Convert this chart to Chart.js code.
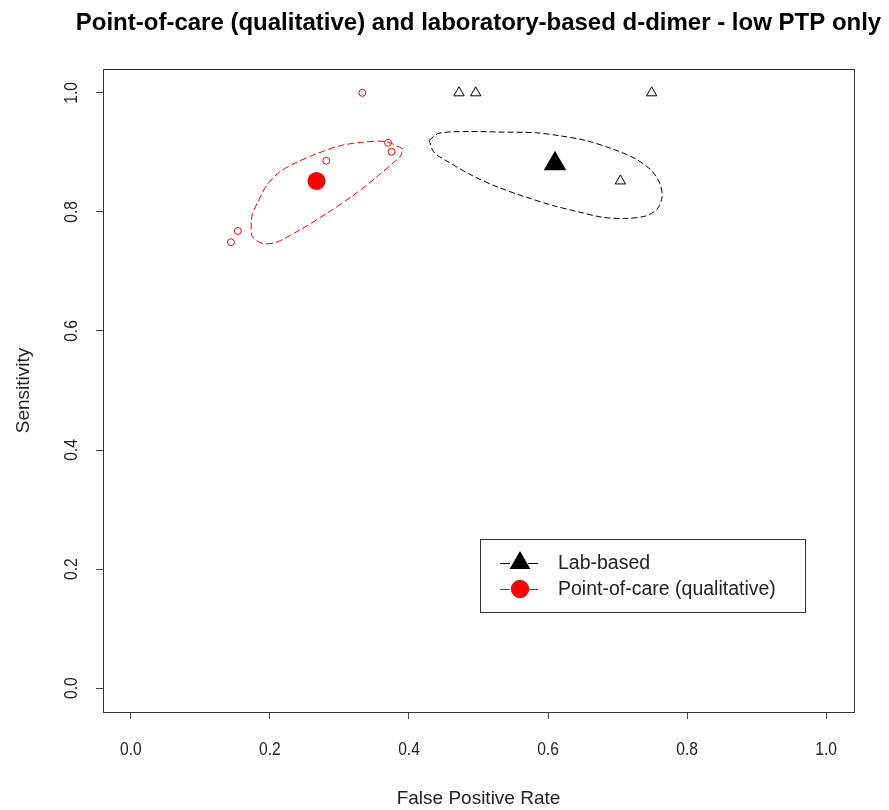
<!DOCTYPE html>
<html>
<head>
<meta charset="utf-8">
<script src="https://cdn.jsdelivr.net/npm/chart.js@4"></script>
<style>
  html, body { margin: 0; padding: 0; background: #fff; }
  canvas { display: block; }
</style>
</head>
<body>
<canvas id="sroc" width="889" height="810"></canvas>
<script>
// axis ticks
const tickValues = [0, 0.2, 0.4, 0.6, 0.8, 1.0];
const tickLabels = ['0.0', '0.2', '0.4', '0.6', '0.8', '1.0'];

// study estimates (FPR, sensitivity)
const labFpr = [0.472, 0.496, 0.749, 0.704];
const labSens = [1.0, 1.0, 1.0, 0.852];
const pocFpr = [0.333, 0.370, 0.375, 0.281, 0.154, 0.144];
const pocSens = [1.0, 0.916, 0.901, 0.886, 0.768, 0.749];

// summary points
const labSummary = [0.610, 0.881];
const pocSummary = [0.267, 0.852];

// confidence regions
const labRegionFpr = [0.429, 0.443, 0.486, 0.534, 0.582, 0.616, 0.654, 0.692, 0.726, 0.749, 0.761, 0.764,
    0.757, 0.740, 0.711, 0.678, 0.644, 0.606, 0.568, 0.529, 0.491, 0.458, 0.436, 0.429];
const labRegionSens = [0.920, 0.932, 0.935, 0.934, 0.933, 0.928, 0.920, 0.906, 0.889, 0.869, 0.847, 0.825,
    0.805, 0.793, 0.789, 0.791, 0.800, 0.811, 0.825, 0.841, 0.861, 0.883, 0.900, 0.920];
const pocRegionFpr = [0.391, 0.367, 0.333, 0.300, 0.266, 0.238, 0.214, 0.195, 0.185, 0.175, 0.173, 0.175,
    0.190, 0.209, 0.242, 0.281, 0.319, 0.353, 0.376, 0.388, 0.391];
const pocRegionSens = [0.906, 0.918, 0.917, 0.911, 0.897, 0.883, 0.867, 0.844, 0.822, 0.797, 0.774, 0.758,
    0.747, 0.749, 0.769, 0.797, 0.827, 0.858, 0.881, 0.894, 0.906];

const chartTitle = 'Point-of-care (qualitative) and laboratory-based d-dimer - low PTP only';
const xTitle = 'False Positive Rate';
const yTitle = 'Sensitivity';
const legendLabels = ['Lab-based', 'Point-of-care (qualitative)'];

const RED = '#ff0000';
const BLACK = '#000000';
const TEXT = '#222222';
const FONT = '"Liberation Sans", Arial, sans-serif';

const pts = (xs, ys) => xs.map((x, i) => ({ x, y: ys[i] }));

const datasets = [
    {
        label: 'labRegion',
        data: pts(labRegionFpr, labRegionSens),
        showLine: true,
        borderColor: BLACK,
        borderWidth: 1,
        borderDash: [6, 3],
        pointRadius: 0,
        tension: 0.3
    },
    {
        label: 'pocRegion',
        data: pts(pocRegionFpr, pocRegionSens),
        showLine: true,
        borderColor: RED,
        borderWidth: 1,
        borderDash: [7, 3],
        pointRadius: 0,
        tension: 0.3
    },
    {
        label: 'labStudies',
        data: pts(labFpr, labSens),
        pointStyle: 'triangle',
        pointRadius: 6,
        borderWidth: 1,
        borderColor: BLACK,
        backgroundColor: 'rgba(0,0,0,0)'
    },
    {
        label: 'pocStudies',
        data: pts(pocFpr, pocSens),
        pointStyle: 'circle',
        pointRadius: 3.5,
        borderWidth: 1,
        borderColor: RED,
        backgroundColor: 'rgba(0,0,0,0)'
    },
    {
        label: legendLabels[0],
        data: [{ x: labSummary[0], y: labSummary[1] }],
        pointStyle: 'triangle',
        pointRadius: 13,
        borderWidth: 0,
        borderColor: BLACK,
        backgroundColor: BLACK
    },
    {
        label: legendLabels[1],
        data: [{ x: pocSummary[0], y: pocSummary[1] }],
        pointStyle: 'circle',
        pointRadius: 9,
        borderWidth: 0,
        borderColor: RED,
        backgroundColor: RED
    }
];

const setTicks = (ax) => {
    ax.ticks = tickValues.map(value => ({ value }));
};

const axisOpts = {
    type: 'linear',
    min: -0.04,
    max: 1.04,
    afterBuildTicks: setTicks,
    ticks: { display: false },
    grid: {
        display: true,
        drawOnChartArea: false,
        drawTicks: true,
        tickLength: 7,
        tickColor: '#444',
        tickWidth: 1
    },
    border: { display: false }
};

// condensed text, like the stretched R device output
const squeezed = (ctx, s, x, y, rot, sx) => {
    ctx.save();
    ctx.translate(x, y);
    if (rot) ctx.rotate(rot);
    ctx.scale(sx, 1);
    ctx.fillText(s, 0, 0);
    ctx.restore();
};

// R style frame, labels and legend
const rPlotDecor = {
    id: 'rPlotDecor',
    afterDraw(chart) {
        const { ctx, chartArea: ca, scales: { x, y } } = chart;
        ctx.save();

        // plot frame
        ctx.strokeStyle = '#333';
        ctx.lineWidth = 1;
        ctx.strokeRect(Math.round(ca.left) + 0.5, Math.round(ca.top) + 0.5,
            Math.round(ca.right - ca.left), Math.round(ca.bottom - ca.top));

        ctx.fillStyle = TEXT;
        ctx.font = '19px ' + FONT;
        ctx.textAlign = 'center';
        ctx.textBaseline = 'alphabetic';

        // tick labels; y ones rotated like R's default
        tickValues.forEach((v, i) => {
            squeezed(ctx, tickLabels[i], x.getPixelForValue(v), 755, 0, 0.82);
            squeezed(ctx, tickLabels[i], 77, y.getPixelForValue(v), -Math.PI / 2, 0.82);
        });

        // axis titles
        const cx = (ca.left + ca.right) / 2;
        const cy = (ca.top + ca.bottom) / 2;
        squeezed(ctx, xTitle, cx, 804, 0, 1);
        squeezed(ctx, yTitle, 29, cy, -Math.PI / 2, 1);

        // main title
        ctx.fillStyle = '#000';
        ctx.font = 'bold 24px ' + FONT;
        ctx.fillText(chartTitle, cx, 30);

        // legend
        const lx = 480, ly = 539, lw = 325, lh = 73;
        ctx.fillStyle = '#fff';
        ctx.fillRect(lx, ly, lw, lh);
        ctx.strokeStyle = '#333';
        ctx.strokeRect(lx + 0.5, ly + 0.5, lw, lh);

        const rows = [
            { ds: chart.data.datasets[4], yy: 563 },
            { ds: chart.data.datasets[5], yy: 589 }
        ];
        rows.forEach(({ ds, yy }) => {
            ctx.strokeStyle = ds.borderColor;
            ctx.lineWidth = 1;
            ctx.setLineDash([10, 4]);
            ctx.beginPath();
            ctx.moveTo(500, yy + 0.5);
            ctx.lineTo(542, yy + 0.5);
            ctx.stroke();
            ctx.setLineDash([]);
            const r = ds.pointStyle === 'triangle' ? 12 : 9;
            Chart.helpers.drawPoint(ctx, {
                pointStyle: ds.pointStyle,
                radius: r,
                rotation: 0,
                borderWidth: 0
            }, 520, yy);
            ctx.fillStyle = ds.backgroundColor;
            ctx.fill();

            ctx.fillStyle = TEXT;
            ctx.font = '19.5px ' + FONT;
            ctx.textAlign = 'left';
            ctx.textBaseline = 'middle';
            ctx.fillText(ds.label, 558, yy + 1);
        });

        ctx.restore();
    }
};

new Chart(document.getElementById('sroc'), {
    type: 'scatter',
    data: { datasets },
    plugins: [rPlotDecor],
    options: {
        responsive: false,
        animation: false,
        devicePixelRatio: 1,
        layout: { padding: { left: 96, top: 69, right: 35, bottom: 91 } },
        plugins: {
            legend: { display: false },
            tooltip: { enabled: false },
            title: { display: false }
        },
        scales: {
            x: axisOpts,
            y: axisOpts
        }
    }
});
</script>
</body>
</html>
